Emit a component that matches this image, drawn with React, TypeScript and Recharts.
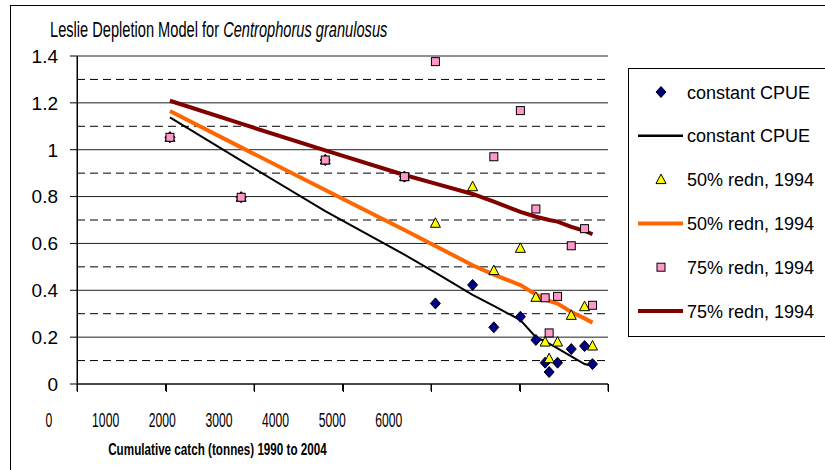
import React from "react";
import {
  CartesianGrid,
  ComposedChart,
  Line,
  ReferenceLine,
  Scatter,
  XAxis,
  YAxis,
} from "recharts";

// cumulative catch (t), one entry per year 1990..2004
const catchX = [1050, 1855, 2805, 3700, 4050, 4470, 4710, 5010, 5185, 5290, 5335, 5430, 5585, 5735, 5825];

// observed CPUE under each scenario (null = above the axis range)
const cpueConst = [1.053, 0.797, 0.956, 0.885, 0.344, 0.423, 0.242, 0.287, 0.188, 0.091, 0.051, 0.091, 0.149, 0.162, 0.085];
const cpue50 = [1.053, 0.797, 0.956, 0.885, 0.686, 0.842, 0.484, 0.579, 0.37, 0.179, 0.108, 0.179, 0.293, 0.33, 0.162];
const cpue75 = [1.053, 0.797, 0.956, 0.885, 1.376, null, 0.97, 1.167, 0.747, 0.368, 0.218, 0.374, 0.59, 0.663, 0.336];

// fitted Leslie lines
const fitConst = [1.138, 0.953, 0.738, 0.552, 0.475, 0.38, 0.333, 0.273, 0.2, 0.182, 0.172, 0.152, 0.118, 0.085, 0.077];
const fit50 = [1.165, 1.01, 0.828, 0.657, 0.589, 0.507, 0.467, 0.422, 0.382, 0.362, 0.355, 0.343, 0.307, 0.28, 0.262];
const fit75 = [1.209, 1.111, 0.997, 0.892, 0.855, 0.811, 0.778, 0.735, 0.714, 0.704, 0.7, 0.693, 0.671, 0.654, 0.639];

const xTicks = [0, 1000, 2000, 3000, 4000, 5000, 6000];
const yTicks = [0, 0.2, 0.4, 0.6, 0.8, 1, 1.2, 1.4];
const yMinor = [0.1, 0.3, 0.5, 0.7, 0.9, 1.1, 1.3];

const legendLabels = [
  "constant CPUE",
  "constant CPUE",
  "50% redn, 1994",
  "50% redn, 1994",
  "75% redn, 1994",
  "75% redn, 1994",
];

const FONT = '"Liberation Sans", Arial, sans-serif';
const W = 825;
const H = 470;
const MARGIN = { top: 56, right: 217, bottom: 0, left: 0 };
const PLOT_LEFT = 77;
const X_AXIS_H = 86;
const AXIS_Y = H - X_AXIS_H;
const PLOT_RIGHT = W - MARGIN.right;

const toPts = (ys: (number | null)[]) =>
  catchX.map((x, i) => ({ x, y: ys[i] })).filter((p) => p.y != null);

function Diamond({ cx, cy }: any) {
  return (
    <path
      d={`M${cx},${cy - 5.5}L${cx + 5},${cy}L${cx},${cy + 5.5}L${cx - 5},${cy}Z`}
      fill="#000080"
      stroke="#000"
      strokeWidth={1}
    />
  );
}

function Triangle({ cx, cy }: any) {
  return (
    <path
      d={`M${cx},${cy - 5.5}L${cx + 5},${cy + 4}L${cx - 5},${cy + 4}Z`}
      fill="#ffff00"
      stroke="#000"
      strokeWidth={1}
    />
  );
}

function Square({ cx, cy }: any) {
  return <rect x={cx - 4} y={cy - 4} width={8} height={8} fill="#ff99cc" stroke="#000" strokeWidth={1} />;
}

function YTick({ x, y, payload }: any) {
  return (
    <text x={x} y={y + 6.8} textAnchor="end" fontFamily={FONT} fontSize={19} fill="#000">
      {String(payload.value)}
    </text>
  );
}

// the x labels in the original sit on a compressed spacing, offset left of the ticks
function XTick({ x, payload }: any) {
  const lx = 49 + (x - PLOT_LEFT) * 0.64;
  return (
    <g transform={`translate(${lx},427) scale(0.58,1)`}>
      <text x={0} y={0} textAnchor="middle" fontFamily={FONT} fontSize={21} fill="#000">
        {String(payload.value)}
      </text>
    </g>
  );
}

// axis frame drawn crisp on top: vertical axis + x tick marks
function AxisFrame() {
  const xPos = (v: number) =>
    Math.round(PLOT_LEFT + (v / 6000) * (PLOT_RIGHT - PLOT_LEFT)) + 0.5;
  return (
    <g>
      <line x1={PLOT_LEFT + 0.5} x2={PLOT_LEFT + 0.5} y1={MARGIN.top} y2={AXIS_Y + 1} stroke="#000" strokeWidth={1} />
      {xTicks.map((v) => (
        <line key={v} x1={xPos(v)} x2={xPos(v)} y1={AXIS_Y} y2={AXIS_Y + 8} stroke="#000" strokeWidth={1} />
      ))}
    </g>
  );
}

function Overlay() {
  const rowY = (i: number) => 92 + i * 43.8;
  const marks = [
    (cy: number) => <Diamond cx={661} cy={cy} />,
    (cy: number) => <line x1={638} x2={683} y1={cy} y2={cy} stroke="#000" strokeWidth={2.5} />,
    (cy: number) => <Triangle cx={661} cy={cy} />,
    (cy: number) => <line x1={638} x2={683} y1={cy} y2={cy} stroke="#ff6600" strokeWidth={4} />,
    (cy: number) => <Square cx={661} cy={cy} />,
    (cy: number) => <line x1={638} x2={683} y1={cy} y2={cy} stroke="#800000" strokeWidth={4} />,
  ];
  return (
    <svg
      width={W}
      height={H}
      style={{ position: "absolute", left: 0, top: 0, pointerEvents: "none" }}
    >
      <rect x={10.5} y={5.5} width={900} height={600} fill="none" stroke="#000" strokeWidth={1} />
      <AxisFrame />
      <g transform="translate(50,37) scale(0.665,1)">
        <text x={0} y={0} fontFamily={FONT} fontSize={22} fill="#000">
          Leslie Depletion Model for <tspan fontStyle="italic">Centrophorus granulosus</tspan>
        </text>
      </g>
      <g transform="translate(217.5,455) scale(0.73,1)">
        <text x={0} y={0} textAnchor="middle" fontFamily={FONT} fontSize={16} fontWeight="bold" fill="#000">
          Cumulative catch (tonnes) 1990 to 2004
        </text>
      </g>
      <rect x={628.5} y={68.5} width={300} height={268} fill="#fff" stroke="#000" strokeWidth={1} />
      {legendLabels.map((label, i) => (
        <g key={i}>
          {marks[i](rowY(i))}
          <text x={687} y={rowY(i) + 6.5} fontFamily={FONT} fontSize={18} fill="#000">
            {label}
          </text>
        </g>
      ))}
    </svg>
  );
}

export default function App() {
  return (
    <div style={{ position: "absolute", left: 0, top: 0, width: W, height: H, background: "#fff" }}>
      <ComposedChart width={W} height={H} margin={MARGIN}>
        <CartesianGrid stroke="#222" vertical={false} />
        {yMinor.map((v) => (
          <ReferenceLine key={v} y={v} stroke="#000" strokeDasharray="8 5" />
        ))}
        <XAxis
          type="number"
          dataKey="x"
          domain={[0, 6000]}
          ticks={xTicks}
          height={X_AXIS_H}
          tickSize={7}
          axisLine={{ stroke: "#000" }}
          tickLine={{ stroke: "#000" }}
          tick={<XTick />}
        />
        <YAxis
          type="number"
          dataKey="y"
          domain={[0, 1.4]}
          ticks={yTicks}
          width={PLOT_LEFT}
          tickSize={7}
          tickMargin={12}
          axisLine={{ stroke: "#000" }}
          tickLine={{ stroke: "#000" }}
          tick={<YTick />}
        />
        <Line data={toPts(fitConst)} dataKey="y" type="linear" stroke="#000" strokeWidth={2} dot={false} isAnimationActive={false} />
        <Line data={toPts(fit50)} dataKey="y" type="linear" stroke="#ff6600" strokeWidth={4} dot={false} isAnimationActive={false} />
        <Line data={toPts(fit75)} dataKey="y" type="linear" stroke="#800000" strokeWidth={4} dot={false} isAnimationActive={false} />
        <Scatter data={toPts(cpueConst)} dataKey="y" shape={<Diamond />} isAnimationActive={false} />
        <Scatter data={toPts(cpue50)} dataKey="y" shape={<Triangle />} isAnimationActive={false} />
        <Scatter data={toPts(cpue75)} dataKey="y" shape={<Square />} isAnimationActive={false} />
      </ComposedChart>
      <Overlay />
    </div>
  );
}
